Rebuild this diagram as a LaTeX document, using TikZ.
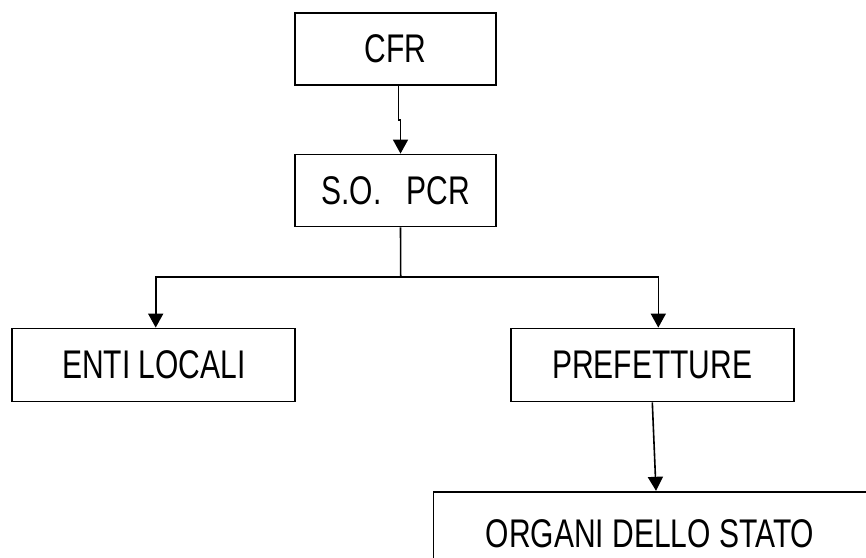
\documentclass[tikz,border=0pt]{standalone}
\usepackage{fontspec}
\setmainfont{Liberation Sans}[FakeStretch=0.75]
\usetikzlibrary{arrows.meta}

\begin{document}
\begin{tikzpicture}[
  x=1pt, y=-1pt,
  box/.style={rectangle, draw, line width=1.8pt, inner sep=0pt, font=\fontsize{40}{44}\selectfont},
  arrow/.style={-{Triangle[length=14pt,width=15pt]}, line width=1.6pt},
  link/.style={line width=1.6pt}
]
\clip (0,0) rectangle (866,557);
\useasboundingbox (0,0) rectangle (866,557);

% Top
\node[box, minimum width=201pt, minimum height=72pt] (cfr) at (395.5,48.8) {CFR};
\node[box, minimum width=201pt, minimum height=72pt] (sopcr) at (395.5,190.5) {S.O.\ \ \ PCR};
\draw[arrow] ([xshift=3pt]cfr.south) -- ++(0,34) -| ([xshift=5pt]sopcr.north);

% Middle
\node[box, minimum width=283pt, minimum height=73pt] (enti) at (153.7,365) {ENTI LOCALI};
\node[box, minimum width=283pt, minimum height=73pt] (pref) at (652.3,365) {PREFETTURE};

\coordinate (split) at (400.7,276.7);
\draw[link] ([xshift=5pt]sopcr.south) -- (split);
\draw[arrow] (split) -| ([xshift=2pt]enti.north);
\draw[arrow] (split) -| ([xshift=6pt]pref.north);

% Bottom
\node[box, minimum width=433pt, minimum height=84pt] (organi) at (650,533.7) {ORGANI DELLO STATO};
\draw[arrow] (pref.south) -- ([xshift=6pt]organi.north);

\end{tikzpicture}
\end{document}
